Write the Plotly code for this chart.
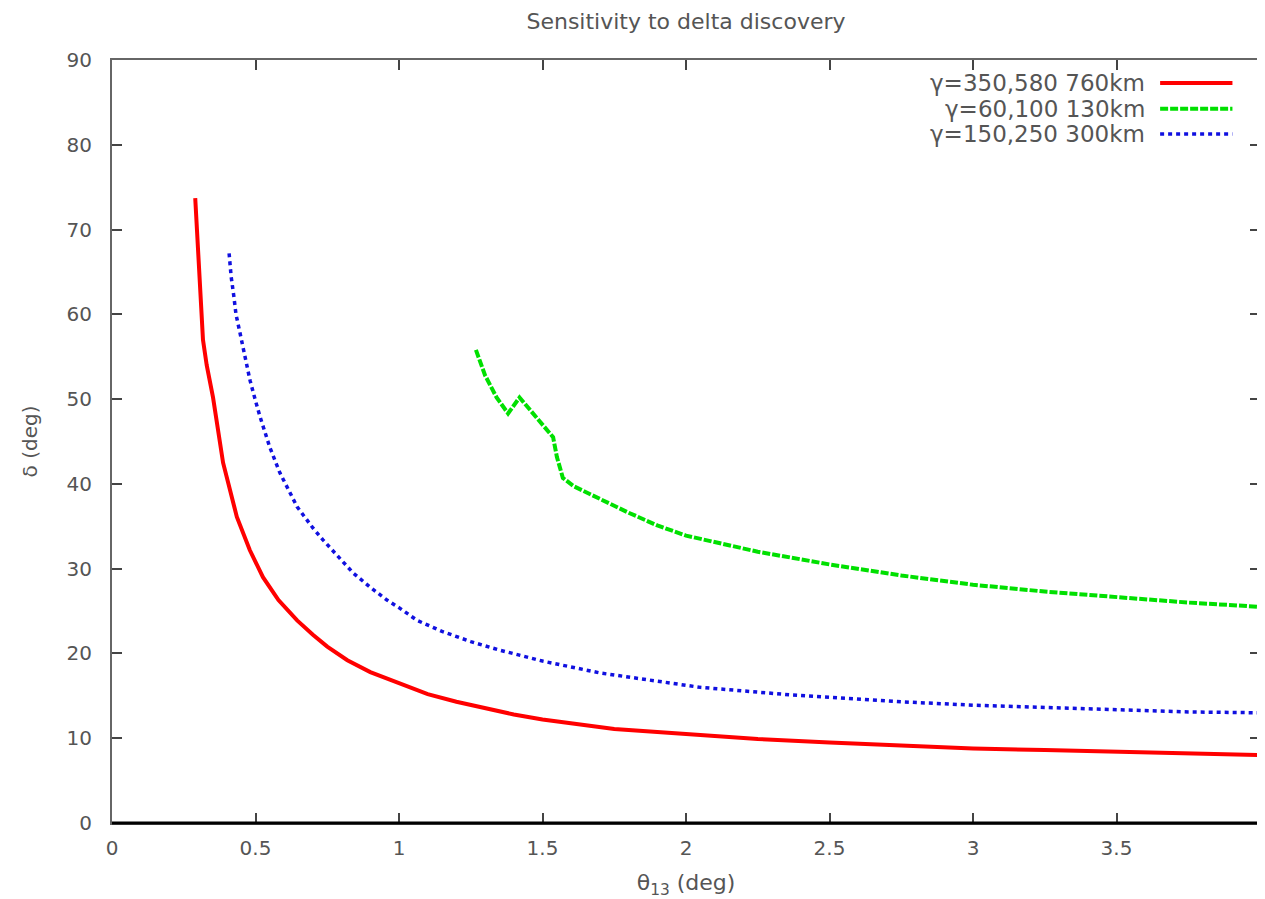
import plotly.graph_objects as go

# ---- data ----
red_x = [0.29, 0.30, 0.31, 0.317, 0.33, 0.352, 0.387, 0.435, 0.48, 0.526, 0.58, 0.645, 0.70, 0.75, 0.82, 0.90,
         1.0, 1.1, 1.2, 1.3, 1.4, 1.5, 1.75, 2.0, 2.25, 2.5, 2.75, 3.0, 3.25, 3.5, 3.75, 4.0]
red_y = [73.7, 68, 62, 57, 54, 50.2, 42.5, 36.1, 32.2, 29.0, 26.3, 23.9, 22.2, 20.8, 19.2, 17.8,
         16.5, 15.2, 14.3, 13.5, 12.8, 12.2, 11.1, 10.5, 9.9, 9.5, 9.1, 8.8, 8.6, 8.4, 8.2, 8.0]

green_x = [1.268, 1.30, 1.34, 1.38, 1.42, 1.46, 1.50, 1.537, 1.55, 1.571, 1.61, 1.70, 1.80, 1.90, 2.0,
           2.25, 2.5, 2.75, 3.0, 3.25, 3.5, 3.75, 4.0]
green_y = [55.8, 52.8, 50.2, 48.3, 50.2, 48.6, 47.0, 45.5, 43.2, 40.7, 39.7, 38.2, 36.6, 35.1, 33.9,
           32.0, 30.5, 29.2, 28.1, 27.3, 26.6, 26.0, 25.5]

blue_x = [0.408, 0.415, 0.425, 0.432, 0.446, 0.465, 0.481, 0.50, 0.516, 0.55, 0.585, 0.645, 0.70, 0.735, 0.80, 0.84,
          0.90, 0.958, 1.0, 1.063, 1.15, 1.25, 1.35, 1.5, 1.70, 2.05, 2.37, 2.75, 3.0, 3.25, 3.5, 3.75, 4.0]
blue_y = [67.2, 64.5, 62, 60, 57.8, 54.6, 52.2, 49.8, 47.9, 44.3, 41.3, 37.3, 34.8, 33.4, 30.9, 29.5,
          27.8, 26.3, 25.4, 23.9, 22.6, 21.4, 20.4, 19.1, 17.7, 16.0, 15.1, 14.3, 13.9, 13.6, 13.3, 13.1, 13.0]

series_names = ["γ=350,580 760km", "γ=60,100 130km", "γ=150,250 300km"]
x_ticks = [0, 0.5, 1, 1.5, 2, 2.5, 3, 3.5, 4]
x_tick_labels = ["0", "0.5", "1", "1.5", "2", "2.5", "3", "3.5", "4"]
y_ticks = [0, 10, 20, 30, 40, 50, 60, 70, 80, 90]

styles = [
    dict(color="#ff0000", width=4, dash="solid"),
    dict(color="#00e000", width=4, dash="8px,2px"),
    dict(color="#1010e0", width=3.5, dash="4px,4px"),
]

font_family = "DejaVu Sans, Verdana, sans-serif"
text_color = "#555555"
frame_color = "#666666"

fig = go.Figure()
for (xs, ys), name, st in zip([(red_x, red_y), (green_x, green_y), (blue_x, blue_y)], series_names, styles):
    fig.add_trace(go.Scatter(x=xs, y=ys, mode="lines", name=name, line=st, showlegend=False))

# legend drawn gnuplot-style: right-aligned text followed by a line sample
legend_y = [0.970, 0.936, 0.903]
for name, st, ly in zip(series_names, styles, legend_y):
    fig.add_annotation(x=0.9015, y=ly, xref="paper", yref="paper", text=name, showarrow=False,
                       xanchor="right", yanchor="middle",
                       font=dict(family=font_family, size=23, color=text_color))
    fig.add_shape(type="line", xref="paper", yref="paper", x0=0.913, x1=0.976, y0=ly, y1=ly,
                  line=st)

# darker bottom border as in the original
fig.add_shape(type="line", xref="paper", yref="paper", x0=0, x1=1, y0=0, y1=0,
              line=dict(color="black", width=3))

axis_common = dict(showgrid=False, zeroline=False, showline=True, linecolor=frame_color, linewidth=2,
                   mirror="ticks", ticks="inside", ticklen=10, tickwidth=2, tickcolor="#444444",
                   automargin=False,
                   tickfont=dict(family=font_family, size=20, color=text_color))

fig.update_layout(
    width=1257, height=891,
    paper_bgcolor="white", plot_bgcolor="white",
    margin=dict(l=104, r=5, t=52, b=76),
    title=dict(text="Sensitivity to delta discovery", x=0.5, xref="paper", y=1 - 13 / 891, yref="container",
               xanchor="center", yanchor="middle",
               font=dict(family=font_family, size=22, color=text_color)),
    xaxis=dict(range=[0, 4], tickvals=x_ticks, ticktext=x_tick_labels, ticklabelstandoff=6,
               title=dict(text="θ<sub>13</sub> (deg)", standoff=18,
                          font=dict(family=font_family, size=22, color=text_color)),
               **axis_common),
    yaxis=dict(range=[0, 90], tickvals=y_ticks, ticklabelstandoff=14,
               title=dict(text="δ (deg)", standoff=24,
                          font=dict(family=font_family, size=20, color=text_color)),
               **axis_common),
)

fig.write_html("out.html")
